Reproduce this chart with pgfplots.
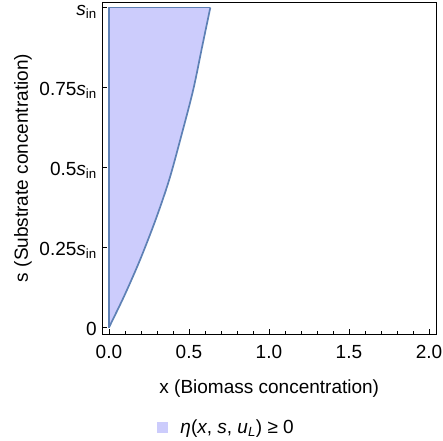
\documentclass[border=0pt]{standalone}
\usepackage{fontspec}
\setmainfont{Liberation Sans}
\usepackage{pgfplots}
\pgfplotsset{compat=1.18}
\definecolor{regionfill}{RGB}{204,204,252}
\definecolor{regionedge}{RGB}{94,129,181}
\newcommand{\sIn}{\textit{s}\textsubscript{in}}
\newcommand{\chartfont}{\fontsize{19bp}{22bp}\selectfont}

\begin{document}
\begin{tikzpicture}
\useasboundingbox (-102.5bp,-107bp) rectangle (340.5bp,334bp);
\begin{axis}[
  at={(0,0)}, anchor=south west, scale only axis,
  width=333.5bp, height=332bp,
  xmin=-0.04, xmax=2.044, ymin=-0.02, ymax=1.017,
  axis line style={black, line width=0.8bp},
  tick align=inside, major tick length=5bp, minor tick length=3bp,
  tick style={black, line width=0.8bp},
  xtick pos=bottom, ytick pos=left,
  xtick={0,0.5,1,1.5,2}, xticklabels={0.0,0.5,1.0,1.5,2.0},
  minor x tick num=4,
  ytick={0,0.25,0.5,0.75,1},
  yticklabels={0,0.25\sIn,0.5\sIn,0.75\sIn,\sIn},
  tick label style={font=\chartfont, inner sep=0pt},
  xticklabel style={anchor=base, yshift=-24.4bp},
  yticklabel style={anchor=base east, xshift=-5.5bp, yshift=-8.3bp},
  label style={font=\chartfont, inner sep=0pt},
  xlabel={x (Biomass concentration)},
  ylabel={s (Substrate concentration)},
  xlabel style={at={([yshift=-59bp]axis description cs:0.5,0)}, anchor=base},
  ylabel style={at={([xshift=-74.5bp]axis description cs:0,0.5)}, anchor=base},
  legend style={draw=none, fill=none, inner sep=0pt, font=\chartfont,
    at={([yshift=-93bp]axis description cs:0.1634,0)}, anchor=west,
    nodes={inner sep=0pt}},
  legend image code/.code={
    \fill[regionfill] (0bp,-5.5bp) rectangle (11bp,5.5bp);
    \path (23.3bp,0bp);
  },
]
% region fill
\addplot[fill=regionfill, draw=none]
  coordinates {(0,1) (0,0) (0.096,0.099) (0.195,0.212) (0.292,0.337)
    (0.377,0.462) (0.454,0.602) (0.527,0.743) (0.585,0.883)
    (0.634,1)} -- cycle;
\addlegendentry{\textit{η}(\textit{x}, \textit{s}, \textit{u}\textsubscript{\textit{L}}) ≥ 0}
% boundary: curved side
\addplot[draw=regionedge, line width=1.7bp, smooth, tension=0.5, forget plot]
  coordinates {(0,0) (0.096,0.099) (0.195,0.212) (0.292,0.337)
    (0.377,0.462) (0.454,0.602) (0.527,0.743) (0.585,0.883)
    (0.634,1)};
% boundary: left and top sides
\addplot[draw=regionedge, line width=1.7bp, line join=round, forget plot]
  coordinates {(0,0) (0,1) (0.634,1)};
\end{axis}
\end{tikzpicture}
\end{document}
